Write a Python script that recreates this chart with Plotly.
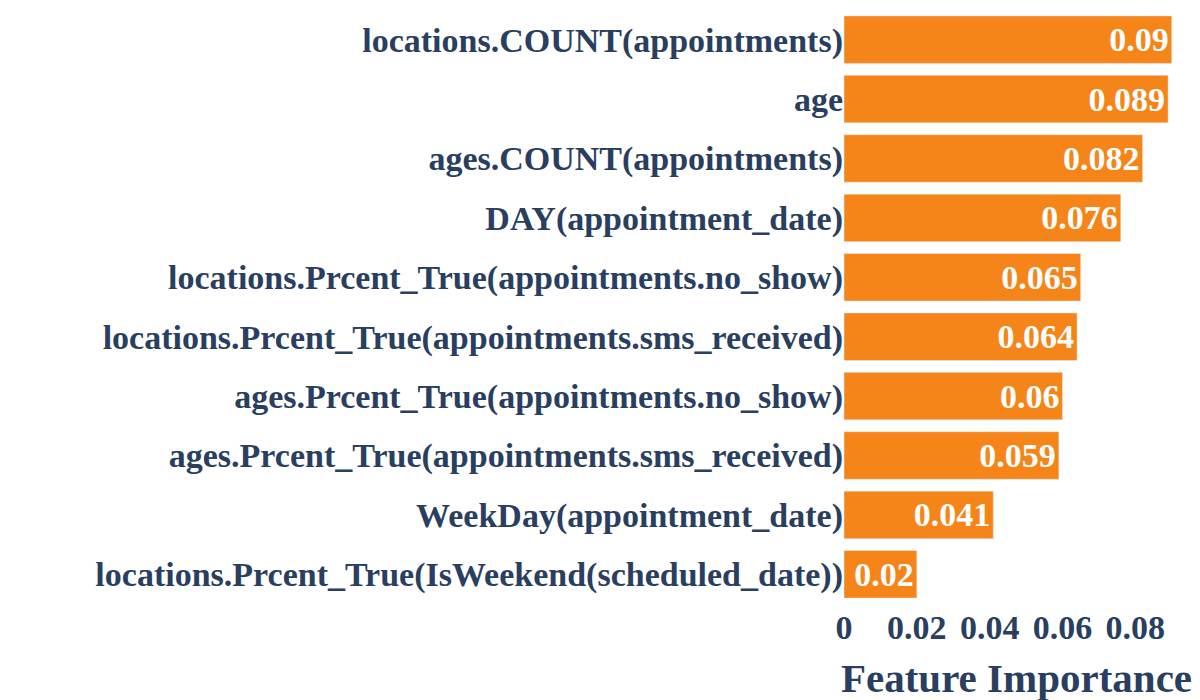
import plotly.graph_objects as go

# Feature importances (top 10)
features = [
    "locations.COUNT(appointments)",
    "age",
    "ages.COUNT(appointments)",
    "DAY(appointment_date)",
    "locations.Prcent_True(appointments.no_show)",
    "locations.Prcent_True(appointments.sms_received)",
    "ages.Prcent_True(appointments.no_show)",
    "ages.Prcent_True(appointments.sms_received)",
    "WeekDay(appointment_date)",
    "locations.Prcent_True(IsWeekend(scheduled_date))",
]
importance = [0.09, 0.089, 0.082, 0.076, 0.065, 0.064, 0.06, 0.059, 0.041, 0.02]

serif = "Liberation Serif, Times New Roman, serif"

# Create chart
fig = go.Figure(
    go.Bar(
        x=importance,
        y=features,
        orientation="h",
        text=[str(v) for v in importance],
        textposition="inside",
        insidetextanchor="end",
        textfont=dict(color="white", size=34, family=serif, weight="bold"),
        marker=dict(color="#F58518", line=dict(color="#E5ECF6", width=0.5)),
    )
)

# page body adds an 8px offset, margins compensate for it
fig.update_layout(
    width=1200,
    height=700,
    bargap=0.2,
    paper_bgcolor="white",
    plot_bgcolor="white",
    font=dict(family=serif, color="#2a3f5f", size=34, weight="bold"),
    margin=dict(l=836, r=19, t=2, b=104, autoexpand=False),
    showlegend=False,
)
fig.update_yaxes(autorange="reversed", showgrid=False, ticks="", automargin=False,
                 tickfont=dict(size=34))
fig.update_xaxes(
    showgrid=False,
    zeroline=False,
    automargin=False,
    tickvals=[0, 0.02, 0.04, 0.06, 0.08],
    ticktext=["0", "0.02", "0.04", "0.06", "0.08"],
    tickfont=dict(size=34),
    title=dict(text="Feature Importance", font=dict(size=41), standoff=18),
)

fig.write_html("out.html")
